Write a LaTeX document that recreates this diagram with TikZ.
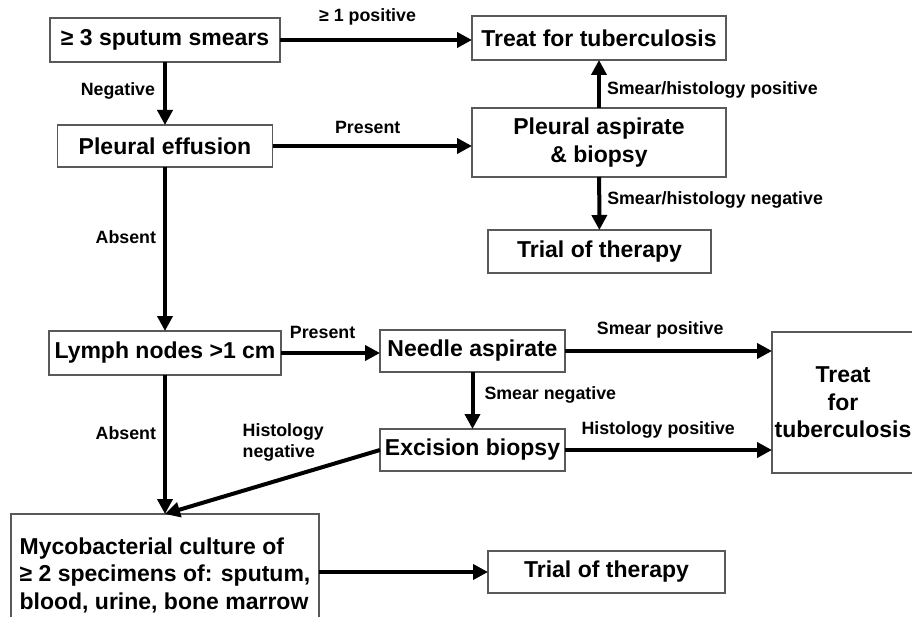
\documentclass[tikz,border=0pt]{standalone}
\usepackage{fontspec}
\setmainfont{Liberation Sans}
\usetikzlibrary{arrows.meta}

\tikzset{
  box/.style={draw=black!65, line width=1.3pt, inner sep=0pt, outer sep=0pt, align=center,
    font=\fontsize{23}{27.5}\selectfont\bfseries},
  lbl/.style={font=\fontsize{17.8}{21}\selectfont\bfseries, inner sep=2pt},
  flow/.style={line width=4pt, -{Triangle[length=15pt,width=15pt]}},
}

\begin{document}
\begin{tikzpicture}[x=1pt,y=-1pt]
  \useasboundingbox (0,0) rectangle (912,617);

  % boxes, top half
  \node[box, minimum width=230pt, minimum height=44pt] (smears) at (165,40) {≥ 3 sputum smears};
  \node[box, minimum width=254pt, minimum height=44pt] (treatA) at (599,38) {Treat for tuberculosis};
  \node[box, minimum width=215pt, minimum height=42pt] (effusion) at (165,146) {Pleural effusion};
  \node[box, minimum width=254pt, minimum height=69pt] (aspirate) at (599,142.5) {Pleural aspirate\\ \& biopsy};
  \node[box, minimum width=223pt, minimum height=43pt] (trialA) at (599.5,251.5) {Trial of therapy};

  % boxes, bottom half
  \node[box, minimum width=142pt, minimum height=141pt] (treatB) at (843,402.5) {Treat\\ for\\ tuberculosis};
  \node[box, minimum width=232pt, minimum height=44pt] (lymph) at (165,353) {Lymph nodes >1 cm};
  \node[box, minimum width=185pt, minimum height=42pt] (needle) at (472.5,351) {Needle aspirate};
  \node[box, minimum width=185pt, minimum height=42pt] (excision) at (472.5,450) {Excision biopsy};
  \node[box, minimum width=308pt, minimum height=122pt, align=left] (myco) at (165,575)
    {Mycobacterial culture of\\ ≥ 2 specimens of: sputum,\\ blood, urine, bone marrow};
  \node[box, minimum width=237pt, minimum height=42pt] (trialB) at (606.5,572) {Trial of therapy};

  % connectors
  \draw[flow] (smears.east) -- node[lbl, above=11pt, pos=0.456] {≥ 1 positive} (smears.east -| treatA.west);
  \draw[flow] (smears) -- node[lbl, left=6pt, pos=0.46] {Negative} (effusion);
  \draw[flow] (effusion.east) -- node[lbl, above=8pt, pos=0.4775] {Present} (effusion.east -| aspirate.west);
  \draw[flow] (aspirate) -- node[lbl, right=4pt, pos=0.375] {Smear/histology positive} (treatA);
  \draw[flow] (aspirate) -- node[lbl, right=4pt, pos=0.44] {Smear/histology negative} (trialA);
  \draw[flow] (effusion) -- node[lbl, left=5pt, pos=0.43] {Absent} (lymph);

  \draw[flow] (lymph.east) -- node[lbl, above=10pt, pos=0.42] {Present} (lymph.east -| needle.west);
  \draw[flow] (needle.east) -- node[lbl, above=9pt, pos=0.46] {Smear positive} (needle.east -| treatB.west);
  \draw[flow] (needle) -- node[lbl, right=8pt, pos=0.40] {Smear negative} (excision);
  \draw[flow] (excision.east) -- node[lbl, above=8pt, pos=0.45] {Histology positive} (excision.east -| treatB.west);
  \draw[flow] (lymph) -- node[lbl, left=5pt, pos=0.42] {Absent} (myco.north);
  \draw[flow] (excision.west) -- node[lbl, above=14pt, pos=0.45, align=left] {Histology\\ negative} (myco.north);
  \draw[flow] (trialB.west -| myco.east) -- (trialB.west);
\end{tikzpicture}
\end{document}
